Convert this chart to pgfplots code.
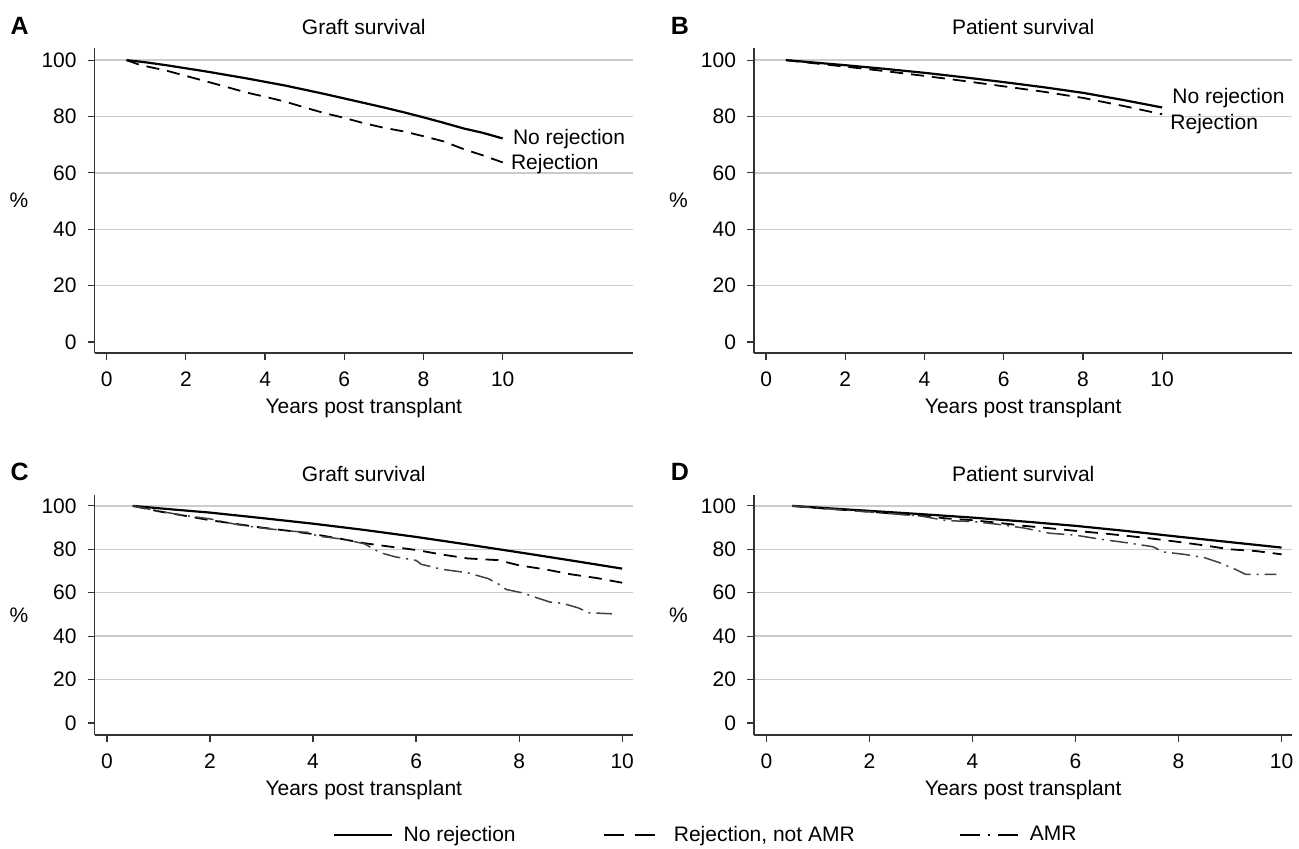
\documentclass[border=0pt]{standalone}
\usepackage{pgfplots}
\pgfplotsset{compat=1.18}
\usepackage{fontspec}
\setmainfont{Liberation Sans}
\newcommand\fs{\fontsize{10.5}{12.6}\selectfont}
\definecolor{gridgray}{HTML}{CCCCCC}
\definecolor{axgray}{HTML}{333333}
\pgfplotsset{
  panel/.style={
    scale only axis, width=269.2pt,
    axis x line*=bottom, axis y line*=left,
    axis line style={-, axgray, line width=0.6pt},
    tick align=outside, major tick length=3.5pt,
    tick style={axgray, line width=0.6pt},
    ytick={20,40,...,100}, extra y ticks={0}, extra y tick style={grid=none},
    xtick={0,2,...,10},
    ymajorgrids, major grid style={gridgray, line width=0.7pt},
    /pgf/number format/assume math mode=true,
    tick label style={font=\fs},
    yticklabel style={inner sep=0pt, anchor=east, xshift=-5.3pt},
    xticklabel style={inner sep=0pt, anchor=north, yshift=-5.7pt},
    font=\fs, clip=false,
  },
  norej/.style={black, line width=1.1pt, line join=round},
  rej/.style={black, line width=0.9pt, dash pattern=on 6.5pt off 4pt},
  amr/.style={black!75, line width=0.75pt, dash pattern=on 9pt off 3pt on 1pt off 3pt},
}
\begin{document}
\begin{tikzpicture}
\useasboundingbox (0,0) rectangle (649.5pt,424pt);
% ---------------- A
\begin{axis}[panel, at={(47.3pt,247.5pt)}, anchor=south west, height=152.5pt,
  xmin=-0.305, xmax=13.29, ymin=-3.9, ymax=104.3]
\addplot[norej] coordinates {(0.5,100) (1,99.2) (1.5,98.2) (2,97.1) (2.5,96) (3,94.8) (3.5,93.6) (4,92.3) (4.5,91) (5,89.5) (5.5,88) (6,86.4) (6.5,84.8) (7,83.2) (7.5,81.5) (8,79.7) (8.5,77.8) (9,75.8) (9.5,74.2) (10,72.2)};
\addplot[rej] coordinates {(0.5,100) (0.8,98.5) (1,97.8) (1.5,96.3) (2,94.4) (2.5,92.5) (3,90.6) (3.5,88.6) (4,87) (4.5,85.3) (5,83.2) (5.5,81.2) (6,79.5) (6.5,77.6) (7,76) (7.5,74.7) (8,73) (8.5,71.2) (9,68.5) (9.5,66.2) (10,63.7)};
\node[anchor=west, inner sep=0pt] at (axis cs:10.25,72) {No rejection};
\node[anchor=west, inner sep=0pt] at (axis cs:10.2,63.3) {Rejection};
\node at (rel axis cs:0,0.5) [xshift=-37.8pt] {\%};
\node at (rel axis cs:0.5,0) [yshift=-27.5pt] {Years post transplant};
\node at (rel axis cs:0.5,1) [yshift=10.5pt] {Graft survival};
\end{axis}
% ---------------- B
\begin{axis}[panel, at={(377pt,247.5pt)}, anchor=south west, height=152.5pt,
  xmin=-0.305, xmax=13.29, ymin=-3.9, ymax=104.3]
\addplot[norej] coordinates {(0.5,100) (1,99.4) (2,98.2) (3,96.9) (4,95.5) (5,93.9) (6,92.2) (7,90.4) (8,88.4) (9,85.9) (10,83.2)};
\addplot[rej] coordinates {(0.5,100) (1,99.2) (2,97.7) (3,96.1) (4,94.4) (5,92.6) (6,90.7) (7,88.8) (8,86.6) (9,83.8) (10,80.8)};
\node[anchor=west, inner sep=0pt] at (axis cs:10.25,86.4) {No rejection};
\node[anchor=west, inner sep=0pt] at (axis cs:10.2,77.3) {Rejection};
\node at (rel axis cs:0,0.5) [xshift=-37.8pt] {\%};
\node at (rel axis cs:0.5,0) [yshift=-27.5pt] {Years post transplant};
\node at (rel axis cs:0.5,1) [yshift=10.5pt] {Patient survival};
\end{axis}
% ---------------- C
\begin{axis}[panel, at={(47.3pt,56.5pt)}, anchor=south west, height=120pt,
  xmin=-0.24, xmax=10.21, ymin=-5.5, ymax=105,
  legend columns=3,
  legend cell align=left,
  legend image code/.code={\draw[#1] (0pt,0pt) -- (29pt,0pt);},
  legend style={at={(axis description cs:0.4428,-0.4167)}, anchor=west,
    draw=none, fill=none, inner sep=0pt, font=\fs,
    nodes={inner sep=0pt, text depth=0.15em},
    /tikz/every odd column/.append style={column sep=5.5pt},
    /tikz/every even column/.append style={column sep=44pt}}]
\addplot[norej, forget plot] coordinates {(0.5,100) (1,98.9) (2,96.9) (3,94.4) (4,91.8) (5,88.9) (6,85.7) (7,82.2) (8,78.6) (9,74.9) (10,71.1)};
\addplot[rej, forget plot] coordinates {(0.5,100) (1,97.5) (1.5,95.5) (2,93.4) (2.5,91.7) (3,90) (3.5,88.6) (4,87) (4.5,85) (5,82.8) (5.5,81.2) (6,79.7) (6.5,77.6) (7,75.8) (7.6,75) (8,72.6) (8.5,70.8) (9,68.5) (9.5,66.8) (10,64.6)};
\addplot[amr, forget plot] coordinates {(0.5,100) (1,97.6) (1.5,95.6) (2,94) (2.5,91.5) (3,89.8) (3.5,88.5) (3.9,87.8) (4.1,86) (4.3,85.5) (4.6,84.6) (5,82.5) (5.3,78.5) (5.6,76.5) (6,74.9) (6.1,73.1) (6.5,70.8) (7,69.2) (7.4,66.5) (7.6,64) (7.75,61.5) (8.05,60) (8.2,58.8) (8.6,55.7) (8.85,55.1) (9.15,53) (9.35,50.8) (9.8,50.3)};
\addlegendimage{black, line width=0.6pt}
\addlegendentry{No rejection}
\addlegendimage{black, line width=0.6pt, dash pattern=on 10pt off 5.5pt}
\addlegendentry{Rejection, not AMR\rule{8.5pt}{0pt}}
\addlegendimage{black, line width=0.6pt, dash pattern=on 10pt off 4pt on 1pt off 4pt}
\addlegendentry{AMR}
\node at (rel axis cs:0,0.5) [xshift=-37.8pt] {\%};
\node at (rel axis cs:0.5,0) [yshift=-27.5pt] {Years post transplant};
\node at (rel axis cs:0.5,1) [yshift=10.5pt] {Graft survival};
\end{axis}
% ---------------- D
\begin{axis}[panel, at={(377pt,56.5pt)}, anchor=south west, height=120pt,
  xmin=-0.24, xmax=10.21, ymin=-5.5, ymax=105]
\addplot[norej] coordinates {(0.5,100) (1,99.2) (2,97.7) (3,96.2) (4,94.6) (5,92.8) (6,90.8) (7,88.4) (8,85.8) (9,83.3) (10,80.8)};
\addplot[rej] coordinates {(0.5,100) (1,99) (2,97.3) (3,95.5) (3.5,94.2) (4,93.4) (4.5,92.2) (5,90.8) (5.5,89.7) (6,88.5) (6.5,87.4) (7,86.2) (7.5,84.9) (8,83.4) (8.5,81.8) (9,80) (9.5,79.2) (10,77.7)};
\addplot[amr] coordinates {(0.5,100) (1,99) (2,97.2) (3,95.3) (3.5,93.2) (4,92.8) (4.5,91.5) (5,89.8) (5.5,87.4) (6,86.5) (6.5,84.6) (7,83) (7.5,81.2) (7.7,78.8) (8.1,77.7) (8.5,76.2) (8.8,73.8) (9.1,70.8) (9.3,68.5) (9.9,68.5)};
\node at (rel axis cs:0,0.5) [xshift=-37.8pt] {\%};
\node at (rel axis cs:0.5,0) [yshift=-27.5pt] {Years post transplant};
\node at (rel axis cs:0.5,1) [yshift=10.5pt] {Patient survival};
\end{axis}
% panel letters
\node[font=\bfseries\fontsize{12.5}{14}\selectfont] at (9.8pt,411pt) {A};
\node[font=\bfseries\fontsize{12.5}{14}\selectfont] at (340pt,411pt) {B};
\node[font=\bfseries\fontsize{12.5}{14}\selectfont] at (9.8pt,188pt) {C};
\node[font=\bfseries\fontsize{12.5}{14}\selectfont] at (340pt,188pt) {D};
\end{tikzpicture}
\end{document}
